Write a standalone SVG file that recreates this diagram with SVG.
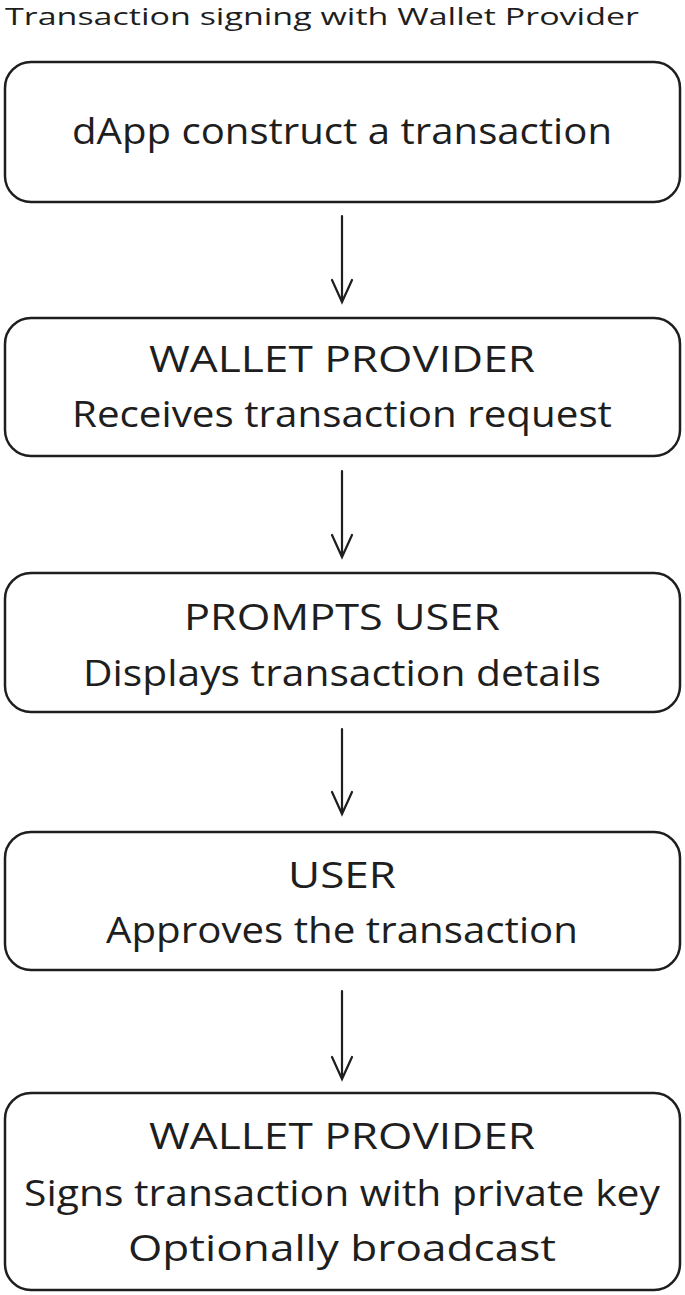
<svg xmlns="http://www.w3.org/2000/svg" width="685" height="1295" viewBox="0 0 685 1295">
<style>
.box{fill:#fff;stroke:#1e1e1e;stroke-width:2.5}
.t{font-family:"Open Sans",sans-serif;font-size:37px;fill:#1e1e1e;text-anchor:middle}
.c{stroke:#1e1e1e;stroke-width:2.2;fill:none;stroke-linecap:round}
</style>
<rect width="685" height="1295" fill="#fff"/>
<text x="322" y="25" textLength="634" lengthAdjust="spacingAndGlyphs" style="font-family:'Open Sans',sans-serif;font-size:23px;fill:#1e1e1e;text-anchor:middle">Transaction signing with Wallet Provider</text>
<g id="n1"><rect class="box" x="5" y="62" width="675" height="140" rx="26"/><text class="t" x="342" y="144" textLength="540" lengthAdjust="spacingAndGlyphs">dApp construct a transaction</text></g>
<g id="n2"><rect class="box" x="5" y="318" width="675" height="138" rx="26"/><text class="t" x="342" y="372" textLength="386" lengthAdjust="spacingAndGlyphs">WALLET PROVIDER</text><text class="t" x="342" y="427" textLength="540" lengthAdjust="spacingAndGlyphs">Receives transaction request</text></g>
<g id="n3"><rect class="box" x="5" y="573" width="675" height="139" rx="26"/><text class="t" x="342" y="630" textLength="316" lengthAdjust="spacingAndGlyphs">PROMPTS USER</text><text class="t" x="342" y="686" textLength="518" lengthAdjust="spacingAndGlyphs">Displays transaction details</text></g>
<g id="n4"><rect class="box" x="5" y="832" width="675" height="138" rx="26"/><text class="t" x="342" y="888" textLength="108" lengthAdjust="spacingAndGlyphs">USER</text><text class="t" x="342" y="943" textLength="472" lengthAdjust="spacingAndGlyphs">Approves the transaction</text></g>
<g id="n5"><rect class="box" x="5" y="1093" width="675" height="197" rx="26"/><text class="t" x="342" y="1149" textLength="386" lengthAdjust="spacingAndGlyphs">WALLET PROVIDER</text><text class="t" x="342" y="1206" textLength="636" lengthAdjust="spacingAndGlyphs">Signs transaction with private key</text><text class="t" x="342" y="1261" textLength="428" lengthAdjust="spacingAndGlyphs">Optionally broadcast</text></g>
<g id="connectors">
<path class="c" d="M342 216V302M332 280L342 302L352 280"/>
<path class="c" d="M342 471V557M332 535L342 557L352 535"/>
<path class="c" d="M342 729V814M332 792L342 814L352 792"/>
<path class="c" d="M342 991V1079M332 1057L342 1079L352 1057"/>
</g>
</svg>
